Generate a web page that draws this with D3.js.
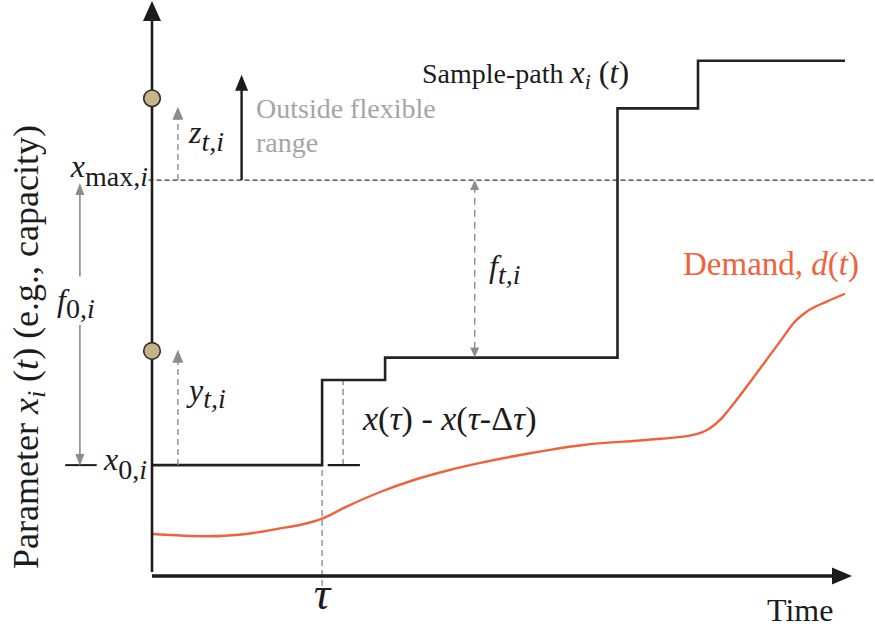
<!DOCTYPE html>
<html><head><meta charset="utf-8">
<script src="https://cdn.jsdelivr.net/npm/d3@7"></script>
<style>
html,body{margin:0;padding:0;background:#fff;}
text{font-family:"Liberation Serif","Times New Roman",serif;}
</style>
</head><body>
<svg id="chart" width="875" height="628" font-family="'Liberation Serif','Times New Roman',serif"></svg>
<script>
// ---- data (time units 0..10, parameter units 0..10) ----
const stepTimes  = [0, 2.43, 3.33, 6.65, 7.8, 9.9];
const stepLevels = [1.98, 3.5, 3.9, 8.35, 9.2, 9.2];
const demandTimes  = [0, 0.79, 1.4, 1.83, 2.11, 2.42, 2.78, 3.26, 3.73, 4.21, 4.69, 5.26, 6.16, 6.97, 7.26, 7.73, 7.97, 8.14, 8.26, 8.69, 9.02, 9.16, 9.35, 9.64, 9.9];
const demandValues = [0.75, 0.71, 0.76, 0.85, 0.91, 1.02, 1.24, 1.5, 1.71, 1.88, 2.02, 2.16, 2.34, 2.42, 2.45, 2.52, 2.64, 2.82, 3.0, 3.71, 4.27, 4.51, 4.72, 4.9, 5.04];
const x0Level = 1.98, xMaxLevel = 7.07;
const markerLevels = [8.53, 4.02];
const tau = 2.43;
const dTauTime = 2.73;                 // small dashed Δ marker
const dTauSegment = [2.51, 2.97];      // short horizontal segment at x0
const zArrowTime = 0.37, zArrowTip = 8.38;
const outsideArrowTime = 1.28, outsideArrowTip = 8.95;
const yArrowTip = 4.04;
const fArrowTime = 4.61;
const f0ArrowTime = -1.03;
const x0TickSpan = [-1.24, -0.79];

const svg = d3.select("#chart");
const x = d3.scaleLinear().domain([0, 10]).range([152, 852]);
const y = d3.scaleLinear().domain([0, 10]).range([576, 16]);

const black = "#1c1c1c", gray = "#8c8c8c", lightText = "#a5a5a5", orange = "#f0623a";

function head(px, py, dir, hl, hw, color) {
  let pts;
  if (dir === "up") pts = [[px, py], [px - hw, py + hl], [px + hw, py + hl]];
  else if (dir === "down") pts = [[px, py], [px - hw, py - hl], [px + hw, py - hl]];
  else pts = [[px, py], [px - hl, py - hw], [px - hl, py + hw]];
  svg.append("path").attr("d", "M" + pts.map(p => p.join(",")).join("L") + "Z").attr("fill", color);
}
function vline(t, v1, v2, color, w, dash) {
  svg.append("line").attr("x1", x(t)).attr("x2", x(t)).attr("y1", y(v1)).attr("y2", y(v2))
    .attr("stroke", color).attr("stroke-width", w).attr("stroke-dasharray", dash || null);
}
function label(px, py, parts, size, color, anchor) {
  const t = svg.append("text").attr("x", px).attr("y", py).attr("font-size", size)
    .attr("fill", color || black).attr("text-anchor", anchor || "start");
  parts.forEach(p => {
    const s = t.append("tspan").text(p.t);
    if (p.i) s.attr("font-style", "italic");
    if (p.fs) s.attr("font-size", p.fs);
    if (p.dy) s.attr("dy", p.dy);
  });
  return t;
}

// xmax dashed line
svg.append("line").attr("x1", x(-0.05)).attr("x2", 875).attr("y1", y(xMaxLevel)).attr("y2", y(xMaxLevel))
  .attr("stroke", "#333").attr("stroke-width", 1.4).attr("stroke-dasharray", "5,3");

// tau dashed line
vline(tau, stepLevels[1], -0.22, gray, 1.4, "6,4");
// delta tau dashed marker
vline(dTauTime, x0Level, stepLevels[1], gray, 1.4, "6,4");
svg.append("line").attr("x1", x(dTauSegment[0])).attr("x2", x(dTauSegment[1]))
  .attr("y1", y(x0Level)).attr("y2", y(x0Level)).attr("stroke", black).attr("stroke-width", 2.2);

// x0 tick on the left
svg.append("line").attr("x1", x(x0TickSpan[0])).attr("x2", x(x0TickSpan[1]))
  .attr("y1", y(x0Level)).attr("y2", y(x0Level)).attr("stroke", black).attr("stroke-width", 2);

// demand curve
const demand = demandTimes.map((t, i) => [t, demandValues[i]]);
svg.append("path").datum(demand)
  .attr("d", d3.line().x(d => x(d[0])).y(d => y(d[1])).curve(d3.curveMonotoneX))
  .attr("fill", "none").attr("stroke", orange).attr("stroke-width", 2.4);

// sample path
const steps = stepTimes.map((t, i) => [t, stepLevels[i]]);
svg.append("path").datum(steps)
  .attr("d", d3.line().x(d => x(d[0])).y(d => y(d[1])).curve(d3.curveStepAfter))
  .attr("fill", "none").attr("stroke", "#222").attr("stroke-width", 2.6);

// z arrow (dashed gray)
vline(zArrowTime, xMaxLevel, zArrowTip - 0.2, gray, 1.4, "6,4");
head(x(zArrowTime), y(zArrowTip), "up", 13, 5.5, gray);
// outside range arrow (solid black)
vline(outsideArrowTime, xMaxLevel, outsideArrowTip - 0.2, black, 2.4);
head(x(outsideArrowTime), y(outsideArrowTip), "up", 16, 6.5, black);
// y arrow
vline(zArrowTime, x0Level, yArrowTip - 0.2, gray, 1.4, "6,4");
head(x(zArrowTime), y(yArrowTip), "up", 13, 5.5, gray);
// f_t arrow (double)
vline(fArrowTime, xMaxLevel - 0.1, stepLevels[2] + 0.1, gray, 1.4, "7,5");
head(x(fArrowTime), y(xMaxLevel), "up", 10, 4.5, gray);
head(x(fArrowTime), y(stepLevels[2]), "down", 10, 4.5, gray);
// f0 arrow (solid gray double, gap for label)
vline(f0ArrowTime, xMaxLevel - 0.1, 5.35, gray, 1.6);
vline(f0ArrowTime, 4.48, x0Level + 0.1, gray, 1.6);
head(x(f0ArrowTime), y(xMaxLevel) + 3, "up", 12, 4.5, gray);
head(x(f0ArrowTime), y(x0Level) + 1, "down", 12, 4.5, gray);

// axes
svg.append("line").attr("x1", x(0)).attr("x2", x(0)).attr("y1", y(0) - 4).attr("y2", 18)
  .attr("stroke", black).attr("stroke-width", 2.6);
head(x(0), 1, "up", 20, 9, black);
svg.append("line").attr("x1", x(0)).attr("x2", x(10) - 16).attr("y1", y(0)).attr("y2", y(0))
  .attr("stroke", black).attr("stroke-width", 3.4);
head(x(10), y(0), "right", 20, 8.5, black);

// markers on y axis
svg.selectAll("circle.m").data(markerLevels).enter().append("circle")
  .attr("cx", x(0)).attr("cy", d => y(d)).attr("r", 8.3)
  .attr("fill", "#c7b28a").attr("stroke", "#2a2a2a").attr("stroke-width", 1.6);

// labels
label(422, 83, [{t: "Sample-path "}, {t: "x", i: 1, fs: 32}, {t: "i", i: 1, fs: 22, dy: 6}, {t: " (", fs: 32, dy: -6}, {t: "t", i: 1, fs: 32}, {t: ")", fs: 32}], 28);
label(256, 118, [{t: "Outside flexible"}], 28, lightText);
label(256, 152, [{t: "range"}], 28, lightText);
label(189, 143, [{t: "z", i: 1}, {t: "t,i", i: 1, fs: 28, dy: 8}], 32);
label(148, 177, [{t: "x", i: 1}, {t: "max,", fs: 28, dy: 9}, {t: "i", i: 1, fs: 28}], 32, black, "end");
label(57, 311, [{t: "f", i: 1}, {t: "0,", fs: 28, dy: 7}, {t: "i", i: 1, fs: 28}], 32);
label(147, 470, [{t: "x", i: 1}, {t: "0,", fs: 28, dy: 9}, {t: "i", i: 1, fs: 28}], 32, black, "end");
label(189, 401, [{t: "y", i: 1}, {t: "t,i", i: 1, fs: 28, dy: 7}], 32);
label(489, 277, [{t: "f", i: 1}, {t: "t,i", i: 1, fs: 28, dy: 7}], 32);
label(363, 430, [{t: "x", i: 1}, {t: "("}, {t: "τ", i: 1}, {t: ") - "}, {t: "x", i: 1}, {t: "("}, {t: "τ", i: 1}, {t: "-Δ"}, {t: "τ", i: 1}, {t: ")"}], 34);
label(683, 275, [{t: "Demand, "}, {t: "d", i: 1}, {t: "("}, {t: "t", i: 1}, {t: ")"}], 33, orange);
label(x(tau), 609, [{t: "τ", i: 1}], 46, black, "middle");
label(767, 621, [{t: "Time"}], 32);

// y-axis title
const yl = svg.append("text").attr("transform", "translate(38,347) rotate(-90)")
  .attr("text-anchor", "middle").attr("font-size", 36).attr("fill", black);
yl.append("tspan").text("Parameter ");
yl.append("tspan").text("x").attr("font-style", "italic");
yl.append("tspan").text("i").attr("font-style", "italic").attr("font-size", 26).attr("dy", 7);
yl.append("tspan").text(" (").attr("dy", -7);
yl.append("tspan").text("t").attr("font-style", "italic");
yl.append("tspan").text(") (e.g., capacity)");
</script>
</body></html>
